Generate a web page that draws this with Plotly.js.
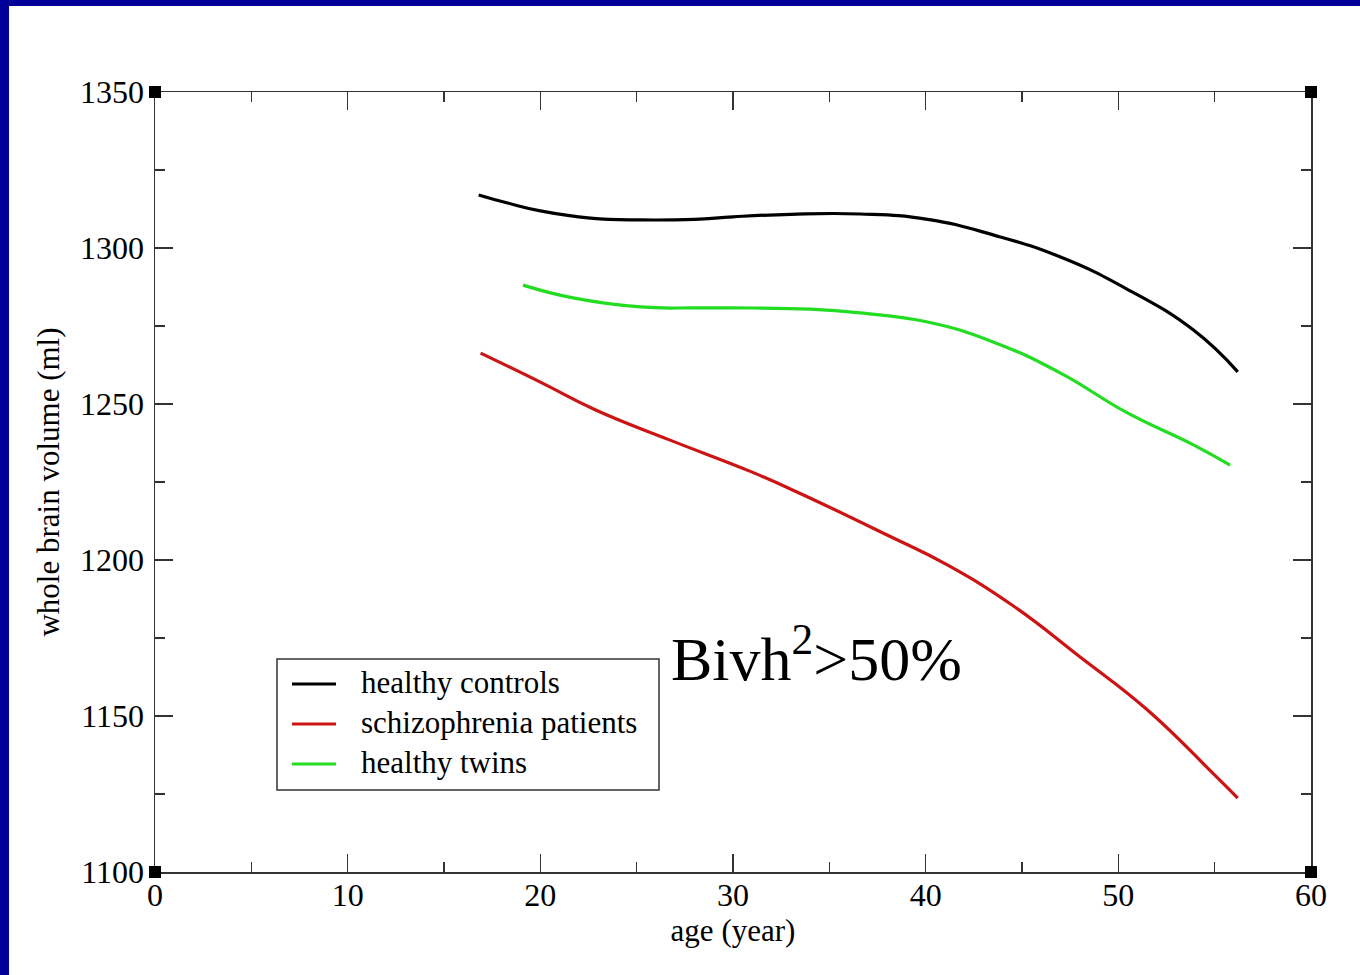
<!DOCTYPE html>
<html>
<head>
<meta charset="utf-8">
<script src="https://cdn.plot.ly/plotly-3.0.1.min.js"></script>
<style>
html, body { margin: 0; padding: 0; background: #ffffff; }
#chart { width: 1360px; height: 975px; }
</style>
</head>
<body>
<div id="chart"></div>
<script>
// Data
const seriesNames = ["healthy controls", "schizophrenia patients", "healthy twins"];
const seriesColors = ["#000000", "#cc1414", "#22dd22"];

const controlsAge = [16.8, 18.3, 20.0, 22.6, 25.2, 28.0, 30.0, 33.0, 36.6, 40.1, 43.5, 47.0, 50.4, 53.9, 56.2];
const controlsVol = [1317.0, 1314.4, 1311.9, 1309.6, 1309.0, 1309.2, 1310.0, 1310.8, 1310.9, 1309.2, 1304.2, 1297.1, 1287.0, 1273.7, 1260.3];

const patientsAge = [16.9, 20.0, 22.9, 26.7, 30.9, 33.6, 38.0, 41.1, 44.5, 48.0, 51.5, 54.9, 56.2];
const patientsVol = [1266.3, 1257.0, 1248.0, 1238.5, 1228.4, 1221.0, 1208.0, 1198.5, 1185.5, 1169.0, 1152.0, 1131.7, 1123.7];

const twinsAge = [19.1, 21.7, 25.2, 28.0, 30.0, 34.0, 36.6, 40.1, 43.5, 47.0, 50.4, 53.9, 55.8];
const twinsVol = [1288.1, 1284.0, 1281.1, 1280.8, 1280.8, 1280.4, 1279.2, 1276.3, 1269.9, 1259.9, 1247.4, 1236.9, 1230.4];

const xTickVals = [0, 10, 20, 30, 40, 50, 60];
const yTickVals = [1100, 1150, 1200, 1250, 1300, 1350];

const FONT = "Liberation Serif, Times New Roman, serif";

const seriesX = [controlsAge, patientsAge, twinsAge];
const seriesY = [controlsVol, patientsVol, twinsVol];

const traces = seriesNames.map((nm, i) => ({
  x: seriesX[i], y: seriesY[i], name: nm, mode: "lines", showlegend: false,
  line: { color: seriesColors[i], width: 3.2, shape: "spline", smoothing: 1.3 }
}));

// plot area in pixels: x 155..1311, y 92..872
const PX = (px) => (px - 155) / 1156;
const PY = (py) => (872 - py) / 780;

function cornerSquare(px, py) {
  return { type: "rect", xref: "paper", yref: "paper", xsizemode: "pixel", ysizemode: "pixel",
    xanchor: px, yanchor: py, x0: -6, x1: 6, y0: -6, y1: 6,
    fillcolor: "#000000", line: { width: 0 }, layer: "above" };
}

// legend box drawn with shapes/annotations
const legendRowsY = [682, 722, 762];
const legendShapes = [
  { type: "rect", xref: "paper", yref: "paper", x0: PX(277), x1: PX(659), y0: PY(790), y1: PY(659),
    fillcolor: "#ffffff", line: { color: "#333333", width: 1.5 }, layer: "above" }
].concat(seriesNames.map((nm, i) => ({
  type: "line", xref: "paper", yref: "paper", x0: PX(292), x1: PX(336),
  y0: PY(legendRowsY[i] + 2), y1: PY(legendRowsY[i] + 2),
  line: { color: seriesColors[i], width: 3.2 }, layer: "above"
})));
const legendTexts = seriesNames.map((nm, i) => ({
  xref: "paper", yref: "paper", x: PX(359), y: PY(legendRowsY[i]), xanchor: "left", yanchor: "middle",
  text: nm, showarrow: false, font: { family: FONT, size: 31, color: "#000000" }
}));

const layout = {
  width: 1360, height: 975,
  margin: { l: 155, r: 49, t: 92, b: 103, pad: 0 },
  paper_bgcolor: "#ffffff", plot_bgcolor: "#ffffff",
  font: { family: FONT, size: 32, color: "#000000" },
  showlegend: false,
  xaxis: {
    range: [0, 60], tickvals: xTickVals, ticktext: xTickVals.map(String),
    ticks: "inside", ticklen: 18, tickwidth: 1.5, tickcolor: "#333333",
    minor: { dtick: 5, tick0: 0, ticks: "inside", ticklen: 10, tickwidth: 1.5, tickcolor: "#333333", showgrid: false },
    showline: true, linecolor: "#333333", linewidth: 1.5, mirror: "ticks",
    showgrid: false, zeroline: false,
    tickfont: { family: FONT, size: 32 },
    ticklabelstandoff: -6,
    title: { text: "age (year)", font: { family: FONT, size: 31 }, standoff: 4 }
  },
  yaxis: {
    range: [1100, 1350], tickvals: yTickVals, ticktext: yTickVals.map(String),
    ticks: "inside", ticklen: 18, tickwidth: 1.5, tickcolor: "#333333",
    minor: { dtick: 25, tick0: 1100, ticks: "inside", ticklen: 10, tickwidth: 1.5, tickcolor: "#333333", showgrid: false },
    showline: true, linecolor: "#333333", linewidth: 1.5, mirror: "ticks",
    showgrid: false, zeroline: false,
    tickfont: { family: FONT, size: 32 },
    ticklabelstandoff: 3,
    title: { text: "whole brain volume (ml)", font: { family: FONT, size: 31 }, standoff: 11 }
  },
  annotations: [
    { x: 26.7, y: 1170, xref: "x", yref: "y", xanchor: "left", yanchor: "middle",
      text: "Bivh<sup>2</sup>>50%", showarrow: false,
      font: { family: FONT, size: 62, color: "#000000" } }
  ].concat(legendTexts),
  shapes: [
    { type: "rect", xref: "paper", yref: "paper", x0: -0.2, x1: 1.2, y0: PY(6), y1: 1.3,
      fillcolor: "#000099", line: { width: 0 }, layer: "above" },
    { type: "rect", xref: "paper", yref: "paper", x0: -0.2, x1: PX(9), y0: -0.3, y1: 1.3,
      fillcolor: "#000099", line: { width: 0 }, layer: "above" },
    cornerSquare(0, 0), cornerSquare(1, 0), cornerSquare(0, 1), cornerSquare(1, 1)
  ].concat(legendShapes)
};

Plotly.newPlot("chart", traces, layout, { displayModeBar: false, staticPlot: true });
</script>
</body>
</html>
